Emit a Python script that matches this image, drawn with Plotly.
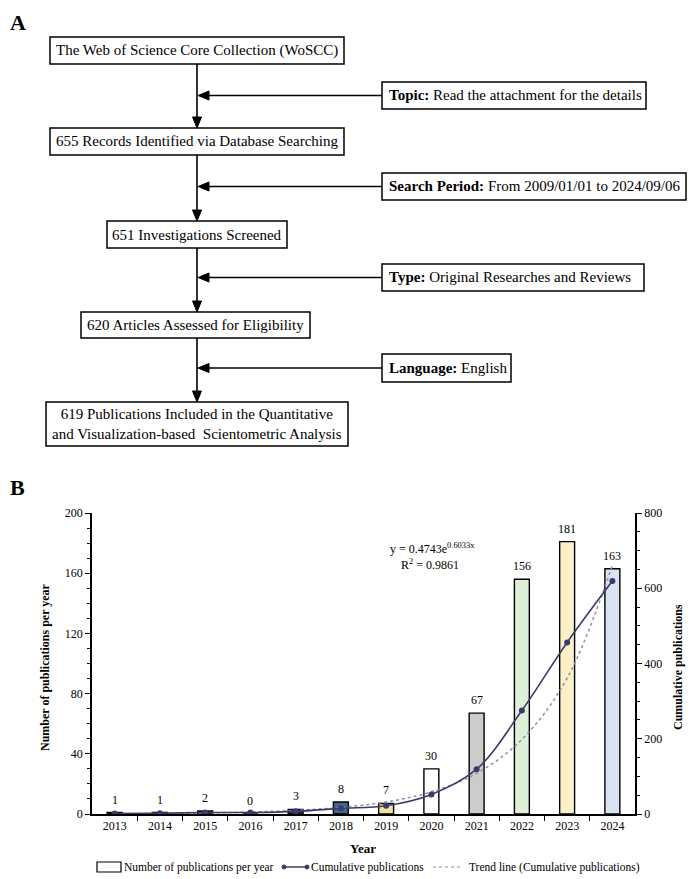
import plotly.graph_objects as go

# ---------------- data ----------------
years = ["2013", "2014", "2015", "2016", "2017", "2018", "2019", "2020", "2021", "2022", "2023", "2024"]
per_year = [1, 1, 2, 0, 3, 8, 7, 30, 67, 156, 181, 163]
cumulative = [1, 2, 4, 4, 7, 15, 22, 52, 119, 275, 456, 619]
trend_read = [0.9, 1.6, 2.9, 5.3, 9.7, 17.7, 32, 59, 108, 198, 361, 661]
bar_colors = ["#2f3a5c", "#5a5a80", "#3d4d70", "#777777", "#3a2f5c", "#3f6b8a", "#f2e2a0",
              "#ffffff", "#cccccc", "#dff0d8", "#fcf0c8", "#d9e3f2"]

flow_main = [
    "The Web of Science Core Collection (WoSCC)",
    "655 Records Identified via Database Searching",
    "651 Investigations Screened",
    "620 Articles Assessed for Eligibility",
    "619 Publications Included in the Quantitative<br>and Visualization-based  Scientometric Analysis",
]
flow_side = [
    "<b>Topic:</b> Read the attachment for the details",
    "<b>Search Period:</b> From 2009/01/01 to 2024/09/06",
    "<b>Type:</b> Original Researches and Reviews",
    "<b>Language:</b> English",
]
legend_labels = ["Number of publications per year", "Cumulative publications",
                 "Trend line (Cumulative publications)"]

# ---------------- layout helpers ----------------
# the page body has an 8px margin, so the figure is drawn 8px in from the window corner
OFF = 8
W, H = 698 - OFF, 879 - OFF
FONT = "Liberation Serif, Times New Roman, serif"


def px(x):
    return (x - OFF) / W


def py(y):
    return 1 - (y - OFF) / H


def note(x, y, text, size=12, xa="center", ya="middle", angle=0):
    return dict(x=px(x), y=py(y), xref="paper", yref="paper", text=text, showarrow=False,
                xanchor=xa, yanchor=ya, textangle=angle,
                font=dict(family=FONT, size=size, color="black"))


# plot area in window pixels
PL, PR, PT, PB = 92, 635, 513, 814

fig = go.Figure()
xi = list(range(len(years)))

fig.add_trace(go.Bar(
    x=xi, y=per_year, width=0.33,
    marker=dict(color=bar_colors, line=dict(color="black", width=1.4)),
    showlegend=False, yaxis="y",
))
fig.add_trace(go.Scatter(
    x=xi, y=trend_read, mode="lines", yaxis="y2",
    line=dict(color="#8e8ea6", width=1.5, dash="dot", shape="spline"),
    showlegend=False,
))
fig.add_trace(go.Scatter(
    x=xi, y=cumulative, mode="lines+markers", yaxis="y2",
    line=dict(color="#3d3a6b", width=1.6, shape="spline"),
    marker=dict(color="#3d3a6b", size=6),
    showlegend=False,
))

shapes = []
annotations = []

# bar value labels
for i, v in zip(xi, per_year):
    annotations.append(dict(x=i, y=v, xref="x", yref="y", text=str(v), showarrow=False,
                            xanchor="center", yanchor="bottom", yshift=4,
                            font=dict(family=FONT, size=12, color="black")))

# equation
annotations.append(note(432, 548, "y = 0.4743e<sup>0.6033x</sup>"))
annotations.append(note(430, 564, "R<sup>2</sup> = 0.9861"))

# axis titles
annotations.append(note(45, 667, "<b>Number of publications per year</b>", angle=-90))
annotations.append(note(678, 667, "<b>Cumulative publications</b>", angle=-90))
annotations.append(note(363, 848, "<b>Year</b>", size=13))

# panel labels
annotations.append(note(OFF, 23, "<b>A</b>", size=22, xa="left"))
annotations.append(note(OFF, 488, "<b>B</b>", size=22, xa="left"))

# legend (manual)
LY = 867
shapes.append(dict(type="rect", xref="paper", yref="paper", x0=px(97), x1=px(121), y0=py(862), y1=py(872),
                   line=dict(color="black", width=1.2), fillcolor="white"))
shapes.append(dict(type="line", xref="paper", yref="paper", x0=px(284), x1=px(307), y0=py(LY), y1=py(LY),
                   line=dict(color="#3d3a6b", width=1.5)))
for cx in (284, 307):
    shapes.append(dict(type="circle", xref="paper", yref="paper", x0=px(cx - 2), x1=px(cx + 2),
                       y0=py(LY + 2), y1=py(LY - 2), line=dict(color="#3d3a6b", width=1), fillcolor="#3d3a6b"))
shapes.append(dict(type="line", xref="paper", yref="paper", x0=px(433), x1=px(462), y0=py(LY), y1=py(LY),
                   line=dict(color="#8e8ea6", width=1.2, dash="dot")))
for lx, lab in zip((122, 309, 467), legend_labels):
    annotations.append(note(lx, LY, lab, size=11.5, xa="left"))

# ---------------- flowchart ----------------
main_boxes = [(50, 344, 37, 64), (50, 344, 128, 155), (107, 287, 221, 248), (81, 310, 312, 338),
              (46, 348, 402, 446)]
side_boxes = [(382, 646, 82, 109), (382, 686, 173, 200), (382, 644, 264, 291), (382, 511, 354, 382)]
MX = 197
for (x0, x1, y0, y1), txt in zip(main_boxes, flow_main):
    shapes.append(dict(type="rect", xref="paper", yref="paper", x0=px(x0), x1=px(x1), y0=py(y1), y1=py(y0),
                       line=dict(color="black", width=1.5), fillcolor="white"))
    annotations.append(note((x0 + x1) / 2, (y0 + y1) / 2, txt, size=15))
for (x0, x1, y0, y1), txt in zip(side_boxes, flow_side):
    shapes.append(dict(type="rect", xref="paper", yref="paper", x0=px(x0), x1=px(x1), y0=py(y1), y1=py(y0),
                       line=dict(color="black", width=1.5), fillcolor="white"))
    annotations.append(note(x0 + 5, (y0 + y1) / 2, txt, size=15, xa="left"))


def tri(points):
    d = "M " + " L ".join(f"{px(a)},{py(b)}" for a, b in points) + " Z"
    return dict(type="path", xref="paper", yref="paper", path=d, fillcolor="black",
                line=dict(color="black", width=1))


# vertical connectors with down arrows
for i in range(4):
    top = main_boxes[i][3]
    bot = main_boxes[i + 1][2]
    shapes.append(dict(type="line", xref="paper", yref="paper", x0=px(MX), x1=px(MX), y0=py(top), y1=py(bot - 10),
                       line=dict(color="black", width=1.6)))
    shapes.append(tri([(MX - 4.5, bot - 11), (MX + 4.5, bot - 11), (MX, bot)]))
# horizontal arrows from side boxes
for (x0, x1, y0, y1) in side_boxes:
    ym = (y0 + y1) / 2
    shapes.append(dict(type="line", xref="paper", yref="paper", x0=px(x0), x1=px(MX + 11), y0=py(ym), y1=py(ym),
                       line=dict(color="black", width=1.6)))
    shapes.append(tri([(MX + 1, ym), (MX + 12, ym - 4.5), (MX + 12, ym + 4.5)]))

axis_font = dict(family=FONT, size=12, color="black")
fig.update_layout(
    width=W, height=H,
    margin=dict(l=0, r=0, t=0, b=0, autoexpand=False),
    paper_bgcolor="white", plot_bgcolor="white",
    showlegend=False,
    xaxis=dict(domain=[px(PL), px(PR)], range=[-0.5, 11.5],
               tickmode="array", tickvals=xi, ticktext=years,
               ticks="", showline=True, linecolor="black", linewidth=1.5, showgrid=False, zeroline=False,
               minor=dict(tickmode="array", tickvals=[i + 0.5 for i in xi[:-1]], ticks="outside",
                          ticklen=5, tickwidth=1.2, tickcolor="black"),
               tickfont=axis_font, anchor="y", automargin=False),
    yaxis=dict(domain=[py(PB), py(PT)], range=[0, 200], dtick=40, ticks="outside", ticklen=5,
               tickwidth=1.2, tickcolor="black",
               minor=dict(dtick=10, ticks="outside", ticklen=3, tickcolor="black", tickwidth=1),
               showline=True, linecolor="black", linewidth=1.5, showgrid=False, zeroline=False,
               tickfont=axis_font, anchor="x", automargin=False),
    yaxis2=dict(range=[0, 800], dtick=200, overlaying="y", side="right", anchor="x",
                ticks="outside", ticklen=5, tickwidth=1.2, tickcolor="black",
                minor=dict(dtick=50, ticks="outside", ticklen=3, tickcolor="black", tickwidth=1),
                showline=True, linecolor="black", linewidth=1.5, showgrid=False, zeroline=False,
                tickfont=axis_font, automargin=False),
    shapes=shapes,
    annotations=annotations,
)

fig.write_html("out.html")
